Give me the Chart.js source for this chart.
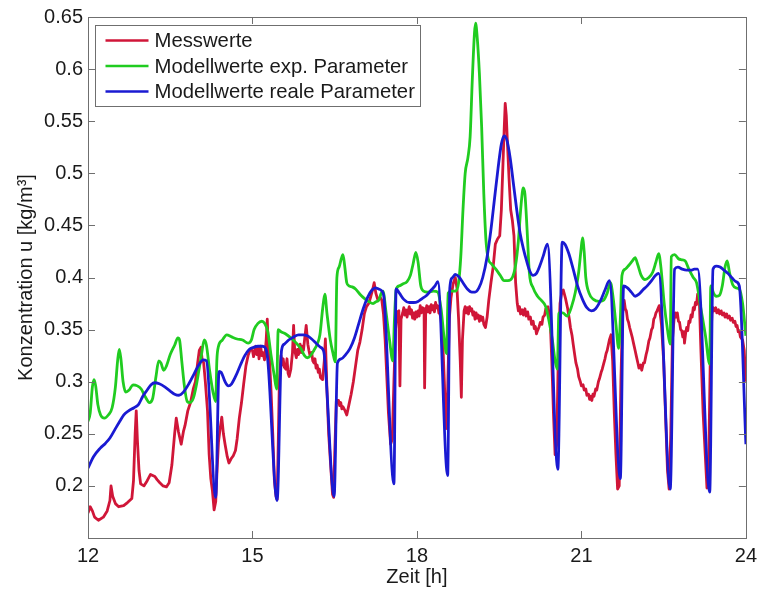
<!DOCTYPE html>
<html><head><meta charset="utf-8">
<script src="https://cdn.jsdelivr.net/npm/chart.js@4.4.0/dist/chart.umd.min.js"></script>
<style>html,body{margin:0;padding:0;background:#fff;}#wrap{position:relative;width:763px;height:589px;}</style>
</head><body><div id="wrap"><canvas id="c" width="763" height="589"></canvas></div>
<script>
const xTicks = [12, 15, 18, 21, 24];
const yTicks = [0.2, 0.25, 0.3, 0.35, 0.4, 0.45, 0.5, 0.55, 0.6, 0.65];
const seriesNames = ['Messwerte', 'Modellwerte exp. Parameter', 'Modellwerte reale Parameter'];
const xTitle = 'Zeit [h]';
const yTitle = 'Konzentration u [kg/m\u00b3]';

// [hour, value] readings
const messwerte = [
[12.00,0.174],[12.04,0.180],[12.08,0.176],[12.12,0.170],[12.19,0.167],[12.28,0.170],[12.35,0.176],[12.40,0.186],[12.42,0.200],[12.45,0.190],[12.50,0.183],[12.56,0.180],[12.65,0.181],[12.72,0.184],[12.80,0.188],[12.83,0.205],[12.86,0.250],[12.88,0.272],[12.90,0.245],[12.93,0.215],[12.96,0.202],[13.02,0.200],[13.08,0.205],[13.14,0.211],[13.18,0.210],[13.22,0.209],[13.26,0.206],[13.31,0.203],[13.37,0.200],[13.43,0.199],[13.48,0.203],[13.53,0.220],[13.58,0.250],[13.61,0.265],[13.65,0.252],[13.70,0.240],[13.74,0.252],[13.77,0.258],[13.82,0.272],[13.87,0.280],[13.92,0.293],[13.96,0.300],[14.00,0.318],[14.03,0.330],[14.06,0.333],[14.08,0.322],[14.11,0.318],[14.14,0.300],[14.18,0.272],[14.21,0.230],[14.24,0.207],[14.27,0.195],[14.30,0.177],[14.33,0.185],[14.35,0.210],[14.38,0.242],[14.41,0.255],[14.44,0.266],[14.47,0.250],[14.50,0.240],[14.54,0.228],[14.57,0.222],[14.61,0.226],[14.65,0.229],[14.69,0.234],[14.72,0.245],[14.76,0.265],[14.80,0.280],[14.84,0.298],[14.88,0.315],[14.92,0.325],[14.96,0.331],[15.00,0.330],[15.02,0.324],[15.04,0.329],[15.06,0.334],[15.08,0.326],[15.10,0.333],[15.12,0.322],[15.14,0.330],[15.15,0.334],[15.17,0.325],[15.19,0.328],[15.22,0.321],[15.25,0.340],[15.27,0.360],[15.29,0.330],[15.31,0.322],[15.34,0.290],[15.37,0.250],[15.40,0.205],[15.43,0.190],[15.45,0.187],[15.47,0.240],[15.49,0.300],[15.52,0.325],[15.54,0.316],[15.56,0.322],[15.58,0.314],[15.61,0.312],[15.63,0.322],[15.65,0.308],[15.67,0.305],[15.70,0.312],[15.73,0.328],[15.75,0.354],[15.77,0.330],[15.80,0.323],[15.82,0.331],[15.84,0.326],[15.87,0.336],[15.89,0.328],[15.91,0.334],[15.93,0.330],[15.95,0.340],[15.98,0.354],[16.01,0.336],[16.03,0.330],[16.05,0.325],[16.08,0.328],[16.10,0.320],[16.12,0.318],[16.14,0.322],[16.16,0.313],[16.18,0.316],[16.20,0.309],[16.22,0.312],[16.24,0.304],[16.28,0.302],[16.31,0.320],[16.33,0.341],[16.36,0.290],[16.39,0.250],[16.42,0.225],[16.46,0.192],[16.48,0.189],[16.50,0.230],[16.53,0.282],[16.57,0.282],[16.59,0.277],[16.61,0.280],[16.63,0.274],[16.65,0.276],[16.69,0.272],[16.72,0.268],[16.76,0.278],[16.80,0.288],[16.84,0.300],[16.88,0.315],[16.92,0.330],[16.96,0.338],[17.00,0.350],[17.04,0.365],[17.08,0.372],[17.12,0.375],[17.16,0.382],[17.19,0.388],[17.22,0.395],[17.25,0.385],[17.29,0.378],[17.33,0.381],[17.36,0.378],[17.39,0.365],[17.42,0.340],[17.45,0.305],[17.48,0.270],[17.52,0.240],[17.55,0.245],[17.58,0.300],[17.61,0.350],[17.64,0.367],[17.67,0.368],[17.69,0.296],[17.71,0.360],[17.74,0.366],[17.76,0.371],[17.78,0.364],[17.80,0.369],[17.82,0.362],[17.84,0.368],[17.86,0.372],[17.88,0.365],[17.90,0.369],[17.92,0.361],[17.94,0.366],[17.96,0.360],[17.98,0.367],[18.00,0.362],[18.02,0.368],[18.04,0.363],[18.06,0.373],[18.08,0.366],[18.10,0.371],[18.12,0.367],[18.13,0.370],[18.14,0.294],[18.16,0.368],[18.18,0.373],[18.20,0.367],[18.22,0.372],[18.24,0.366],[18.26,0.374],[18.28,0.369],[18.30,0.373],[18.32,0.367],[18.34,0.376],[18.36,0.371],[18.38,0.373],[18.40,0.366],[18.42,0.365],[18.44,0.360],[18.47,0.340],[18.50,0.300],[18.53,0.255],[18.56,0.290],[18.59,0.360],[18.62,0.380],[18.66,0.394],[18.70,0.400],[18.73,0.390],[18.76,0.360],[18.79,0.320],[18.81,0.285],[18.83,0.340],[18.86,0.368],[18.88,0.372],[18.90,0.366],[18.92,0.371],[18.94,0.365],[18.96,0.372],[18.98,0.368],[19.00,0.370],[19.02,0.364],[19.04,0.367],[19.06,0.360],[19.08,0.366],[19.10,0.361],[19.12,0.364],[19.14,0.358],[19.16,0.363],[19.18,0.359],[19.20,0.362],[19.22,0.355],[19.25,0.352],[19.28,0.362],[19.31,0.378],[19.35,0.395],[19.39,0.410],[19.43,0.432],[19.47,0.437],[19.51,0.440],[19.54,0.465],[19.57,0.510],[19.59,0.540],[19.61,0.567],[19.63,0.555],[19.65,0.530],[19.68,0.495],[19.71,0.465],[19.74,0.455],[19.77,0.440],[19.80,0.395],[19.83,0.375],[19.85,0.368],[19.87,0.372],[19.89,0.365],[19.92,0.369],[19.94,0.364],[19.97,0.370],[19.99,0.363],[20.02,0.367],[20.04,0.360],[20.07,0.362],[20.09,0.355],[20.12,0.358],[20.14,0.351],[20.16,0.353],[20.18,0.346],[20.20,0.349],[20.23,0.353],[20.25,0.357],[20.28,0.355],[20.30,0.362],[20.33,0.364],[20.35,0.370],[20.39,0.372],[20.43,0.360],[20.46,0.320],[20.49,0.270],[20.52,0.230],[20.55,0.240],[20.58,0.330],[20.61,0.375],[20.64,0.385],[20.67,0.388],[20.71,0.380],[20.75,0.370],[20.78,0.360],[20.80,0.352],[20.83,0.344],[20.85,0.336],[20.88,0.325],[20.90,0.318],[20.93,0.312],[20.95,0.305],[20.98,0.300],[21.00,0.296],[21.03,0.297],[21.05,0.292],[21.08,0.293],[21.10,0.287],[21.13,0.288],[21.15,0.283],[21.17,0.286],[21.19,0.282],[21.21,0.288],[21.23,0.286],[21.26,0.293],[21.28,0.292],[21.31,0.300],[21.33,0.303],[21.36,0.309],[21.38,0.312],[21.41,0.318],[21.43,0.322],[21.45,0.327],[21.47,0.330],[21.51,0.340],[21.54,0.345],[21.57,0.320],[21.60,0.270],[21.63,0.230],[21.66,0.197],[21.69,0.200],[21.72,0.300],[21.75,0.365],[21.78,0.378],[21.80,0.370],[21.82,0.368],[21.84,0.360],[21.86,0.357],[21.88,0.352],[21.90,0.348],[21.93,0.342],[21.95,0.337],[21.98,0.330],[22.00,0.325],[22.03,0.318],[22.05,0.313],[22.08,0.316],[22.10,0.311],[22.13,0.318],[22.15,0.318],[22.18,0.326],[22.20,0.330],[22.23,0.339],[22.25,0.342],[22.28,0.350],[22.30,0.352],[22.32,0.360],[22.34,0.362],[22.36,0.366],[22.38,0.368],[22.42,0.373],[22.46,0.355],[22.50,0.320],[22.54,0.260],[22.57,0.215],[22.60,0.197],[22.63,0.250],[22.66,0.340],[22.69,0.360],[22.71,0.366],[22.73,0.362],[22.75,0.366],[22.77,0.358],[22.79,0.357],[22.81,0.350],[22.83,0.349],[22.85,0.343],[22.87,0.348],[22.88,0.337],[22.90,0.346],[22.92,0.352],[22.94,0.349],[22.96,0.358],[22.98,0.357],[23.00,0.364],[23.02,0.362],[23.04,0.371],[23.06,0.369],[23.08,0.376],[23.10,0.374],[23.12,0.384],[23.15,0.380],[23.18,0.330],[23.22,0.270],[23.26,0.229],[23.29,0.198],[23.32,0.215],[23.35,0.320],[23.38,0.365],[23.40,0.371],[23.42,0.368],[23.45,0.371],[23.47,0.366],[23.50,0.369],[23.52,0.365],[23.55,0.368],[23.57,0.364],[23.60,0.366],[23.62,0.362],[23.65,0.365],[23.67,0.361],[23.70,0.363],[23.72,0.359],[23.75,0.361],[23.77,0.357],[23.80,0.358],[23.82,0.353],[23.84,0.354],[23.86,0.348],[23.88,0.349],[23.90,0.343],[23.94,0.340],[23.97,0.330],[24.00,0.300]
];

const modellExp = [
[12.00,0.262],[12.04,0.270],[12.08,0.295],[12.11,0.302],[12.14,0.296],[12.18,0.278],[12.23,0.268],[12.30,0.265],[12.37,0.268],[12.44,0.275],[12.50,0.295],[12.54,0.320],[12.57,0.331],[12.60,0.322],[12.64,0.300],[12.69,0.290],[12.75,0.292],[12.82,0.297],[12.90,0.296],[12.97,0.293],[13.05,0.285],[13.12,0.280],[13.18,0.284],[13.24,0.305],[13.29,0.320],[13.33,0.318],[13.38,0.311],[13.43,0.315],[13.50,0.326],[13.58,0.335],[13.64,0.342],[13.67,0.340],[13.71,0.320],[13.76,0.295],[13.81,0.281],[13.86,0.280],[13.92,0.284],[13.97,0.295],[14.02,0.310],[14.07,0.326],[14.12,0.340],[14.16,0.335],[14.22,0.310],[14.28,0.290],[14.33,0.281],[14.35,0.320],[14.38,0.334],[14.45,0.340],[14.53,0.345],[14.62,0.343],[14.72,0.341],[14.82,0.340],[14.92,0.337],[14.98,0.340],[15.03,0.350],[15.10,0.356],[15.17,0.358],[15.22,0.356],[15.28,0.348],[15.34,0.325],[15.40,0.305],[15.44,0.293],[15.47,0.350],[15.52,0.348],[15.60,0.346],[15.70,0.342],[15.80,0.337],[15.88,0.332],[15.95,0.325],[16.00,0.323],[16.06,0.325],[16.12,0.330],[16.18,0.336],[16.23,0.345],[16.28,0.370],[16.32,0.384],[16.36,0.365],[16.42,0.340],[16.47,0.327],[16.51,0.319],[16.54,0.400],[16.58,0.410],[16.62,0.418],[16.65,0.422],[16.68,0.412],[16.72,0.395],[16.76,0.392],[16.82,0.391],[16.88,0.389],[16.96,0.384],[17.04,0.380],[17.12,0.377],[17.20,0.375],[17.26,0.377],[17.30,0.378],[17.35,0.385],[17.38,0.387],[17.44,0.365],[17.50,0.340],[17.56,0.320],[17.59,0.360],[17.62,0.388],[17.68,0.392],[17.75,0.394],[17.82,0.396],[17.88,0.402],[17.93,0.413],[17.98,0.424],[18.02,0.415],[18.07,0.392],[18.12,0.387],[18.20,0.386],[18.30,0.387],[18.38,0.386],[18.44,0.370],[18.49,0.345],[18.54,0.327],[18.57,0.385],[18.62,0.387],[18.70,0.387],[18.76,0.395],[18.80,0.420],[18.84,0.465],[18.88,0.500],[18.93,0.515],[18.97,0.535],[19.01,0.590],[19.05,0.635],[19.07,0.644],[19.10,0.630],[19.14,0.595],[19.18,0.545],[19.22,0.480],[19.26,0.435],[19.30,0.418],[19.36,0.413],[19.44,0.408],[19.52,0.402],[19.59,0.397],[19.66,0.397],[19.74,0.400],[19.80,0.412],[19.85,0.435],[19.90,0.470],[19.94,0.486],[19.97,0.480],[20.01,0.445],[20.05,0.405],[20.12,0.390],[20.20,0.382],[20.27,0.378],[20.35,0.372],[20.41,0.358],[20.47,0.340],[20.52,0.320],[20.56,0.312],[20.59,0.366],[20.66,0.366],[20.74,0.363],[20.82,0.372],[20.89,0.386],[20.95,0.405],[20.99,0.425],[21.02,0.438],[21.05,0.425],[21.08,0.400],[21.14,0.385],[21.22,0.379],[21.32,0.377],[21.40,0.378],[21.47,0.385],[21.53,0.395],[21.58,0.380],[21.63,0.355],[21.68,0.332],[21.71,0.360],[21.74,0.402],[21.80,0.408],[21.87,0.412],[21.93,0.416],[21.98,0.419],[22.03,0.412],[22.09,0.402],[22.16,0.398],[22.23,0.400],[22.30,0.405],[22.36,0.415],[22.41,0.423],[22.45,0.410],[22.51,0.375],[22.57,0.350],[22.62,0.336],[22.64,0.420],[22.70,0.422],[22.77,0.418],[22.83,0.417],[22.89,0.416],[22.96,0.408],[23.04,0.400],[23.10,0.395],[23.18,0.370],[23.26,0.345],[23.34,0.317],[23.36,0.392],[23.41,0.385],[23.46,0.382],[23.52,0.383],[23.57,0.392],[23.62,0.410],[23.66,0.416],[23.70,0.405],[23.76,0.393],[23.82,0.390],[23.88,0.389],[23.94,0.375],[24.00,0.344]
];

const modellReal = [
[12.00,0.217],[12.10,0.228],[12.22,0.236],[12.32,0.241],[12.40,0.246],[12.50,0.255],[12.58,0.262],[12.65,0.268],[12.74,0.272],[12.84,0.275],[12.92,0.278],[13.00,0.286],[13.08,0.292],[13.15,0.297],[13.22,0.299],[13.30,0.298],[13.40,0.295],[13.50,0.291],[13.58,0.288],[13.66,0.287],[13.74,0.290],[13.84,0.298],[13.94,0.308],[14.02,0.316],[14.10,0.321],[14.16,0.320],[14.33,0.189],[14.39,0.310],[14.43,0.309],[14.50,0.300],[14.56,0.296],[14.62,0.298],[14.70,0.306],[14.78,0.316],[14.86,0.325],[14.94,0.331],[15.02,0.333],[15.10,0.334],[15.18,0.334],[15.24,0.332],[15.28,0.320],[15.45,0.186],[15.53,0.330],[15.58,0.336],[15.66,0.340],[15.75,0.343],[15.84,0.345],[15.92,0.345],[16.00,0.344],[16.08,0.341],[16.16,0.337],[16.24,0.333],[16.30,0.329],[16.49,0.190],[16.55,0.318],[16.62,0.322],[16.70,0.326],[16.78,0.332],[16.86,0.342],[16.94,0.356],[17.02,0.370],[17.10,0.381],[17.18,0.388],[17.24,0.390],[17.30,0.389],[17.36,0.387],[17.40,0.380],[17.58,0.202],[17.62,0.389],[17.68,0.385],[17.76,0.379],[17.86,0.376],[17.94,0.376],[18.02,0.377],[18.10,0.380],[18.18,0.383],[18.26,0.388],[18.33,0.392],[18.38,0.396],[18.56,0.210],[18.60,0.390],[18.65,0.400],[18.70,0.403],[18.76,0.401],[18.84,0.395],[18.92,0.389],[19.00,0.386],[19.06,0.386],[19.13,0.390],[19.20,0.400],[19.28,0.420],[19.35,0.446],[19.42,0.478],[19.48,0.505],[19.54,0.528],[19.59,0.536],[19.64,0.532],[19.70,0.515],[19.76,0.490],[19.82,0.465],[19.88,0.443],[19.94,0.428],[20.00,0.416],[20.06,0.406],[20.12,0.402],[20.18,0.404],[20.24,0.411],[20.30,0.420],[20.38,0.432],[20.57,0.216],[20.65,0.434],[20.70,0.432],[20.77,0.423],[20.85,0.408],[20.93,0.392],[21.02,0.379],[21.10,0.371],[21.18,0.368],[21.26,0.370],[21.35,0.378],[21.43,0.388],[21.51,0.397],[21.71,0.207],[21.77,0.392],[21.84,0.390],[21.91,0.386],[21.98,0.382],[22.05,0.384],[22.12,0.388],[22.20,0.392],[22.28,0.397],[22.35,0.402],[22.41,0.404],[22.62,0.197],[22.70,0.408],[22.76,0.410],[22.84,0.408],[22.92,0.407],[23.00,0.407],[23.06,0.408],[23.12,0.408],[23.34,0.194],[23.40,0.408],[23.46,0.411],[23.53,0.410],[23.60,0.407],[23.67,0.404],[23.74,0.400],[23.82,0.396],[23.88,0.392],[24.00,0.240]
];

const colors = ['rgb(208,22,56)', 'rgb(32,204,32)', 'rgb(26,26,210)'];
const toPts = rows => rows.map(r => ({x: r[0], y: r[1]}));

Chart.defaults.font.family = "'Liberation Sans', Arial, Helvetica, sans-serif";
Chart.defaults.font.size = 20;
Chart.defaults.color = '#1a1a1a';

const axisColor = '#6f6f6f';
const frame = {
  id: 'frame',
  afterDatasetsDraw(chart) {
    const {ctx, chartArea: a, scales: {x, y}} = chart;
    ctx.save();
    ctx.strokeStyle = axisColor; ctx.lineWidth = 1;
    ctx.beginPath();
    xTicks.forEach(v => {
      const px = Math.round(x.getPixelForValue(v)) + 0.5;
      ctx.moveTo(px, a.bottom); ctx.lineTo(px, a.bottom - 7);
      ctx.moveTo(px, a.top); ctx.lineTo(px, a.top + 7);
    });
    yTicks.forEach(v => {
      const py = Math.round(y.getPixelForValue(v)) + 0.5;
      ctx.moveTo(a.left, py); ctx.lineTo(a.left + 7, py);
      ctx.moveTo(a.right, py); ctx.lineTo(a.right - 7, py);
    });
    ctx.stroke();
    ctx.strokeRect(Math.round(a.left) + 0.5, Math.round(a.top) + 0.5, Math.round(a.right - a.left), Math.round(a.bottom - a.top));
    // legend
    ctx.font = "20.3px 'Liberation Sans', Arial, sans-serif";
    const bx = Math.round(a.left) + 7.5, by = Math.round(a.top) + 8.5;
    const maxW = Math.max(...seriesNames.map(s => ctx.measureText(s).width));
    const bw = Math.round(59 + maxW + 6), bh = 81;
    ctx.fillStyle = '#fff';
    ctx.fillRect(bx, by, bw, bh);
    ctx.strokeStyle = axisColor;
    ctx.strokeRect(bx, by, bw, bh);
    seriesNames.forEach((s, i) => {
      const cy = by + 15 + i * 25.5;
      ctx.strokeStyle = colors[i]; ctx.lineWidth = 2.5;
      ctx.beginPath(); ctx.moveTo(bx + 10, cy); ctx.lineTo(bx + 53, cy); ctx.stroke();
      ctx.fillStyle = '#1a1a1a'; ctx.textBaseline = 'middle'; ctx.textAlign = 'left';
      ctx.fillText(s, bx + 59, cy + 1);
    });
    ctx.restore();
  }
};

const mk = (i, rows, smooth) => ({
  label: seriesNames[i], data: toPts(rows), borderColor: colors[i], backgroundColor: colors[i],
  borderWidth: 2.8, pointRadius: 0, fill: false, order: 3 - i,
  tension: 0, cubicInterpolationMode: smooth ? 'monotone' : 'default', borderJoinStyle: 'round'
});

new Chart(document.getElementById('c'), {
  type: 'line',
  data: { datasets: [mk(0, messwerte, false), mk(1, modellExp, true), mk(2, modellReal, true)] },
  options: {
    responsive: false, animation: false, devicePixelRatio: 1,
    layout: { padding: { top: 17, right: 14, left: 0, bottom: 0 } },
    plugins: { legend: { display: false }, tooltip: { enabled: false } },
    scales: {
      x: {
        type: 'linear', min: 12, max: 24,
        grid: { display: false, drawTicks: false }, border: { display: false },
        afterBuildTicks: s => { s.ticks = xTicks.map(v => ({value: v})); },
        afterFit: s => { s.height = 51; },
        ticks: { padding: 6, maxRotation: 0, callback: v => String(v) },
        title: { display: true, text: xTitle, padding: { top: 0, bottom: 0 } }
      },
      y: {
        type: 'linear', min: 0.15, max: 0.65,
        grid: { display: false, drawTicks: false }, border: { display: false },
        afterBuildTicks: s => { s.ticks = yTicks.map(v => ({value: v})); },
        afterFit: s => { s.width = 88; },
        ticks: { padding: 5, callback: v => String(Number(v.toFixed(2))) },
        title: { display: true, text: yTitle, padding: { top: 14, bottom: 0 } }
      }
    }
  },
  plugins: [frame]
});
</script></body></html>
